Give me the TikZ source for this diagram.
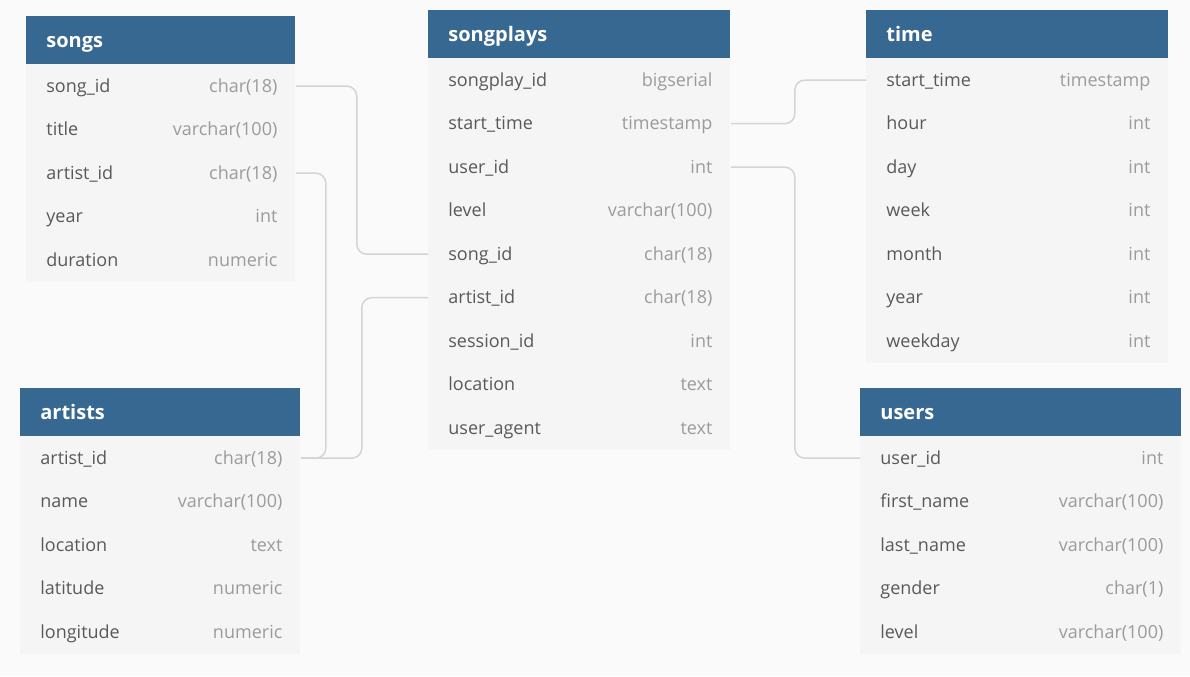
\documentclass[tikz,border=0pt]{standalone}
\usepackage{fontspec}
\setmainfont{Open Sans}
\usetikzlibrary{positioning}
\definecolor{hdrblue}{RGB}{55,104,146}
\definecolor{rowgray}{RGB}{245,245,245}
\definecolor{bggray}{RGB}{250,250,250}
\definecolor{namegray}{RGB}{89,89,89}
\definecolor{typegray}{RGB}{155,155,155}
\definecolor{linkgray}{RGB}{212,212,212}
\tikzset{
  tblhead/.style={anchor=north west, fill=hdrblue, text=white,
    font=\bfseries\fontsize{10}{12}\selectfont, minimum height=24pt,
    inner xsep=10pt, inner ysep=0pt, text width=#1, align=left,
    text height=9pt, text depth=1.7pt},
  tblrow/.style={anchor=north west, fill=rowgray, text=namegray,
    font=\fontsize{9}{11}\selectfont, minimum height=21.75pt,
    inner xsep=10pt, inner ysep=0pt, text width=#1, align=left,
    text height=8pt, text depth=2pt},
  coltype/.style={text=typegray, font=\fontsize{9}{11}\selectfont,
    inner sep=0pt, text height=8pt, text depth=2pt},
  link/.style={draw=linkgray, line width=0.75pt, rounded corners=5pt}
}
\begin{document}
\begin{tikzpicture}[x=0.5pt, y=-0.5pt]
\fill[bggray] (0,0) rectangle (1190,676);
% songs
\node[tblhead=114.5pt] (songs) at (26,16) {songs};
\node[tblrow=114.5pt] (songs-songid) at (26,64) {song\_id};
\node[tblrow=114.5pt] (songs-title) at (26,107.5) {title};
\node[tblrow=114.5pt] (songs-artistid) at (26,151) {artist\_id};
\node[tblrow=114.5pt] (songs-year) at (26,194.5) {year};
\node[tblrow=114.5pt] (songs-duration) at (26,238) {duration};
\node[coltype, left=9pt of songs-songid.east] (songs-songid-t) {char(18)};
\node[coltype, left=9pt of songs-title.east] (songs-title-t) {varchar(100)};
\node[coltype, left=9pt of songs-artistid.east] (songs-artistid-t) {char(18)};
\node[coltype, left=9pt of songs-year.east] (songs-year-t) {int};
\node[coltype, left=9pt of songs-duration.east] (songs-duration-t) {numeric};
% songplays
\node[tblhead=131pt] (plays) at (428,10) {songplays};
\node[tblrow=131pt] (plays-songplayid) at (428,58) {songplay\_id};
\node[tblrow=131pt] (plays-starttime) at (428,101.5) {start\_time};
\node[tblrow=131pt] (plays-userid) at (428,145) {user\_id};
\node[tblrow=131pt] (plays-level) at (428,188.5) {level};
\node[tblrow=131pt] (plays-songid) at (428,232) {song\_id};
\node[tblrow=131pt] (plays-artistid) at (428,275.5) {artist\_id};
\node[tblrow=131pt] (plays-sessionid) at (428,319) {session\_id};
\node[tblrow=131pt] (plays-location) at (428,362.5) {location};
\node[tblrow=131pt] (plays-useragent) at (428,406) {user\_agent};
\node[coltype, left=9pt of plays-songplayid.east] (plays-songplayid-t) {bigserial};
\node[coltype, left=9pt of plays-starttime.east] (plays-starttime-t) {timestamp};
\node[coltype, left=9pt of plays-userid.east] (plays-userid-t) {int};
\node[coltype, left=9pt of plays-level.east] (plays-level-t) {varchar(100)};
\node[coltype, left=9pt of plays-songid.east] (plays-songid-t) {char(18)};
\node[coltype, left=9pt of plays-artistid.east] (plays-artistid-t) {char(18)};
\node[coltype, left=9pt of plays-sessionid.east] (plays-sessionid-t) {int};
\node[coltype, left=9pt of plays-location.east] (plays-location-t) {text};
\node[coltype, left=9pt of plays-useragent.east] (plays-useragent-t) {text};
% time
\node[tblhead=131pt] (time) at (866,10) {time};
\node[tblrow=131pt] (time-starttime) at (866,58) {start\_time};
\node[tblrow=131pt] (time-hour) at (866,101.5) {hour};
\node[tblrow=131pt] (time-day) at (866,145) {day};
\node[tblrow=131pt] (time-week) at (866,188.5) {week};
\node[tblrow=131pt] (time-month) at (866,232) {month};
\node[tblrow=131pt] (time-year) at (866,275.5) {year};
\node[tblrow=131pt] (time-weekday) at (866,319) {weekday};
\node[coltype, left=9pt of time-starttime.east] (time-starttime-t) {timestamp};
\node[coltype, left=9pt of time-hour.east] (time-hour-t) {int};
\node[coltype, left=9pt of time-day.east] (time-day-t) {int};
\node[coltype, left=9pt of time-week.east] (time-week-t) {int};
\node[coltype, left=9pt of time-month.east] (time-month-t) {int};
\node[coltype, left=9pt of time-year.east] (time-year-t) {int};
\node[coltype, left=9pt of time-weekday.east] (time-weekday-t) {int};
% artists
\node[tblhead=120pt] (artists) at (20,388) {artists};
\node[tblrow=120pt] (artists-artistid) at (20,436) {artist\_id};
\node[tblrow=120pt] (artists-name) at (20,479.5) {name};
\node[tblrow=120pt] (artists-location) at (20,523) {location};
\node[tblrow=120pt] (artists-latitude) at (20,566.5) {latitude};
\node[tblrow=120pt] (artists-longitude) at (20,610) {longitude};
\node[coltype, left=9pt of artists-artistid.east] (artists-artistid-t) {char(18)};
\node[coltype, left=9pt of artists-name.east] (artists-name-t) {varchar(100)};
\node[coltype, left=9pt of artists-location.east] (artists-location-t) {text};
\node[coltype, left=9pt of artists-latitude.east] (artists-latitude-t) {numeric};
\node[coltype, left=9pt of artists-longitude.east] (artists-longitude-t) {numeric};
% users
\node[tblhead=140.5pt] (users) at (860,388) {users};
\node[tblrow=140.5pt] (users-userid) at (860,436) {user\_id};
\node[tblrow=140.5pt] (users-firstname) at (860,479.5) {first\_name};
\node[tblrow=140.5pt] (users-lastname) at (860,523) {last\_name};
\node[tblrow=140.5pt] (users-gender) at (860,566.5) {gender};
\node[tblrow=140.5pt] (users-level) at (860,610) {level};
\node[coltype, left=9pt of users-userid.east] (users-userid-t) {int};
\node[coltype, left=9pt of users-firstname.east] (users-firstname-t) {varchar(100)};
\node[coltype, left=9pt of users-lastname.east] (users-lastname-t) {varchar(100)};
\node[coltype, left=9pt of users-gender.east] (users-gender-t) {char(1)};
\node[coltype, left=9pt of users-level.east] (users-level-t) {varchar(100)};
% links
\draw[link] (songs-songid.east) -- ++(61,0) |- (plays-songid.west);
\draw[link] (songs-artistid.east) -- ++(30,0) |- (artists-artistid.east);
\draw[link] (artists-artistid.east) -- ++(61,0) |- (plays-artistid.west);
\draw[link] (plays-starttime.east) -- ++(64,0) |- (time-starttime.west);
\draw[link] (plays-userid.east) -- ++(64,0) |- (users-userid.west);
\end{tikzpicture}
\end{document}
